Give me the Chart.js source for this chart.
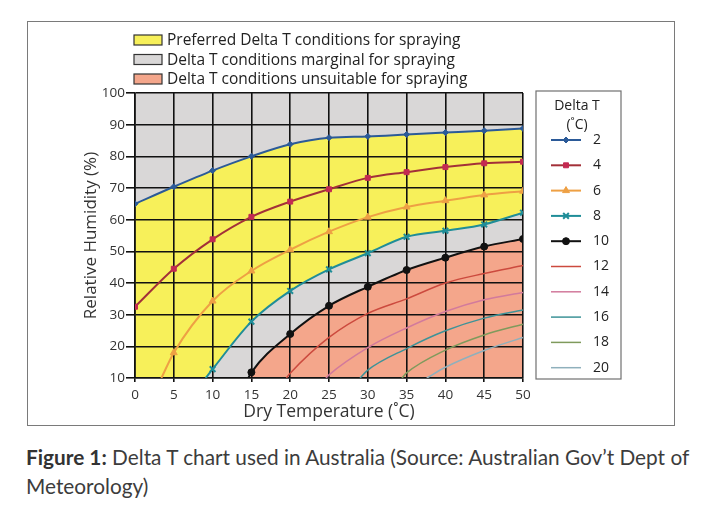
<!DOCTYPE html>
<html>
<head>
<meta charset="utf-8">
<script src="https://cdn.jsdelivr.net/npm/chart.js@4.4.1/dist/chart.umd.min.js"></script>
<style>
  body { margin: 0; background: #fff; }
  #frame { position: absolute; left: 27px; top: 21px; width: 646px; height: 403px; border: 1px solid #7a7a7a; }
  #caption { position: absolute; left: 26px; top: 442px; font-family: Lato, sans-serif; font-size: 20.8px; line-height: 29px; color: #3c3c3c; white-space: nowrap; }
  #caption b { color: #333; }
</style>
</head>
<body>
<div id="frame"><canvas id="deltaT" width="646" height="403"></canvas></div>
<div id="caption"><b>Figure 1:</b> Delta T chart used in Australia (Source: Australian Gov’t Dept of<br>Meteorology)</div>
<script>
var xTicks = [0, 5, 10, 15, 20, 25, 30, 35, 40, 45, 50];
var yTicks = [10, 20, 30, 40, 50, 60, 70, 80, 90, 100];

// [dry temperature, relative humidity] for each Delta T curve
var dt2 = [[0, 65], [5, 70.4], [10, 75.5], [15, 80], [20, 83.8], [25, 85.9], [30, 86.3], [35, 86.9], [40, 87.5], [45, 88.1], [50, 88.8]];
var dt4 = [[0, 32.5], [5, 44.5], [10, 53.8], [15, 60.9], [20, 65.7], [25, 69.6], [30, 73.2], [35, 75], [40, 76.6], [45, 77.8], [50, 78.3]];
var dt6 = [[3.4, 10], [5, 18], [10, 34.3], [15, 43.8], [20, 50.5], [25, 56.2], [30, 60.8], [35, 64], [40, 66], [45, 67.8], [50, 69]];
var dt8 = [[9.1, 10], [10, 12.8], [15, 27.8], [20, 37.5], [25, 44.3], [30, 49.4], [35, 54.6], [40, 56.5], [45, 58.5], [50, 62.2]];
var dt10 = [[14.6, 10], [15, 11.8], [20, 23.9], [25, 32.8], [30, 38.8], [35, 44.1], [40, 48], [45, 51.5], [50, 53.9]];
var dt12 = [[19.5, 10], [20, 11.5], [25, 22.8], [30, 30.4], [35, 35], [40, 40], [45, 43], [50, 45.5]];
var dt14 = [[24.6, 10], [25, 11], [30, 19.6], [35, 25.8], [40, 31], [45, 34.7], [50, 37]];
var dt16 = [[29, 10], [30, 12.5], [35, 19.3], [40, 24.9], [45, 28.9], [50, 31.5]];
var dt18 = [[34.4, 10], [35, 11.6], [40, 18.8], [45, 23.6], [50, 27]];
var dt20 = [[37.6, 10], [40, 13.4], [45, 18.7], [50, 22.8]];
var topEdge = [[0, 100], [50, 100]];

var zoneLabels = ['Preferred Delta T conditions for spraying', 'Delta T conditions marginal for spraying', 'Delta T conditions unsuitable for spraying'];
var zoneColors = ['#f7f05a', '#d9d7d7', '#f4a68b'];

var font = "'Open Sans', sans-serif";
Chart.defaults.font.family = font;
Chart.defaults.color = '#333';

function markerSize(r) {
  return function(c) {
    return c.raw && c.raw[0] % 5 === 0 ? r : 0;
  };
}

function curve(label, data, color, style, radius, markColor) {
  return {
    label: label,
    data: data,
    borderColor: color,
    borderWidth: radius ? 2 : 1.5,
    backgroundColor: 'transparent',
    fill: false,
    pointStyle: style || 'circle',
    pointRadius: markerSize(radius || 0),
    pointBackgroundColor: markColor || color,
    pointBorderColor: markColor || color,
    pointBorderWidth: style === 'crossRot' ? 2 : 1,
    markRadius: radius || 0,
    cubicInterpolationMode: 'monotone',
    order: 0,
    inLegend: true
  };
}

var sets = [
  { label: 'marginal', data: topEdge, borderWidth: 0, pointRadius: 0, fill: 'start', backgroundColor: zoneColors[1], order: 10 },
  curve('2', dt2, '#2b5a98', 'rectRot', 3),
  curve('4', dt4, '#a33038', 'rect', 3.5, '#c42a52'),
  curve('6', dt6, '#eea044', 'triangle', 4),
  curve('8', dt8, '#1f8d98', 'crossRot', 4),
  curve('10', dt10, '#111111', 'circle', 3.5),
  curve('12', dt12, '#cc4a3e'),
  curve('14', dt14, '#d27a9c'),
  curve('16', dt16, '#3d9398'),
  curve('18', dt18, '#7f9a5c'),
  curve('20', dt20, '#8fb0bc')
];
sets[1].fill = 'start'; sets[1].backgroundColor = zoneColors[0]; sets[1].order = 9;
sets[4].fill = 'start'; sets[4].backgroundColor = zoneColors[1]; sets[4].order = 8;
sets[5].fill = 'start'; sets[5].backgroundColor = zoneColors[2]; sets[5].order = 7;

var legends = {
  id: 'legends',
  afterDraw: function(chart) {
    var ctx = chart.ctx;
    ctx.save();
    // zone legend above the plot
    ctx.font = '15.5px ' + font;
    ctx.textBaseline = 'middle';
    ctx.textAlign = 'left';
    for (var i = 0; i < zoneLabels.length; i++) {
      var y = 18 + i * 19.5;
      ctx.fillStyle = zoneColors[i];
      ctx.fillRect(106, y - 5, 28, 10);
      ctx.strokeStyle = '#333';
      ctx.lineWidth = 1.2;
      ctx.strokeRect(106, y - 5, 28, 10);
      ctx.fillStyle = '#222';
      ctx.fillText(zoneLabels[i], 139, y + 1);
    }
    // Delta T legend on the right
    ctx.fillStyle = '#fff';
    ctx.fillRect(508, 69, 85, 288);
    ctx.strokeStyle = '#707070';
    ctx.lineWidth = 1.2;
    ctx.strokeRect(508, 69, 85, 288);
    ctx.fillStyle = '#222';
    ctx.textAlign = 'center';
    ctx.font = '14px ' + font;
    ctx.fillText('Delta T', 549, 84);
    ctx.fillText('(˚C)', 549, 103);
    var rows = chart.data.datasets.filter(function(d) { return d.inLegend; });
    rows.forEach(function(d, k) {
      var ry = 118 + k * 25.3;
      ctx.strokeStyle = d.borderColor;
      ctx.lineWidth = d.markRadius ? 2 : 1.5;
      ctx.beginPath();
      ctx.moveTo(523, ry);
      ctx.lineTo(553, ry);
      ctx.stroke();
      if (d.markRadius) {
        ctx.fillStyle = d.pointBackgroundColor;
        ctx.strokeStyle = d.pointBorderColor;
        ctx.lineWidth = d.pointBorderWidth;
        Chart.helpers.drawPoint(ctx, { pointStyle: d.pointStyle, radius: d.markRadius, rotation: 0, borderWidth: d.pointBorderWidth }, 538, ry);
      }
      ctx.fillStyle = '#222';
      ctx.textAlign = 'left';
      ctx.fillText(d.label, 565, ry);
    });
    ctx.restore();
  }
};

var chart = new Chart(document.getElementById('deltaT'), {
  type: 'line',
  data: { datasets: sets },
  options: {
    responsive: false,
    animation: false,
    devicePixelRatio: 1,
    layout: { padding: { top: 71, right: 151, left: 0, bottom: 0 } },
    plugins: {
      legend: { display: false },
      tooltip: { enabled: false },
      filler: { drawTime: 'beforeDraw' }
    },
    scales: {
      x: {
        type: 'linear',
        min: xTicks[0],
        max: xTicks[xTicks.length - 1],
        afterBuildTicks: function(s) { s.ticks = xTicks.map(function(v) { return { value: v }; }); },
        afterFit: function(s) { s.height = 47; },
        grid: { color: '#111', lineWidth: 1.6, tickLength: 4 },
        border: { color: '#111', width: 1.6 },
        ticks: { font: { size: 13.5 }, padding: 5, maxRotation: 0, color: '#333' },
        title: { display: true, text: 'Dry Temperature (˚C)', font: { size: 17.5 }, padding: { top: 0, bottom: 2 }, color: '#333' }
      },
      y: {
        min: yTicks[0],
        max: yTicks[yTicks.length - 1],
        afterBuildTicks: function(s) { s.ticks = yTicks.map(function(v) { return { value: v }; }); },
        afterFit: function(s) { s.width = 107; },
        grid: { color: '#111', lineWidth: 1.6, tickLength: 9 },
        border: { color: '#111', width: 1.6 },
        ticks: { font: { size: 13.5 }, padding: 1, color: '#333' },
        title: { display: true, text: 'Relative Humidity (%)', font: { size: 17 }, padding: { top: 53, bottom: 0 }, color: '#333' }
      }
    }
  },
  plugins: [legends]
});
</script>
</body>
</html>
